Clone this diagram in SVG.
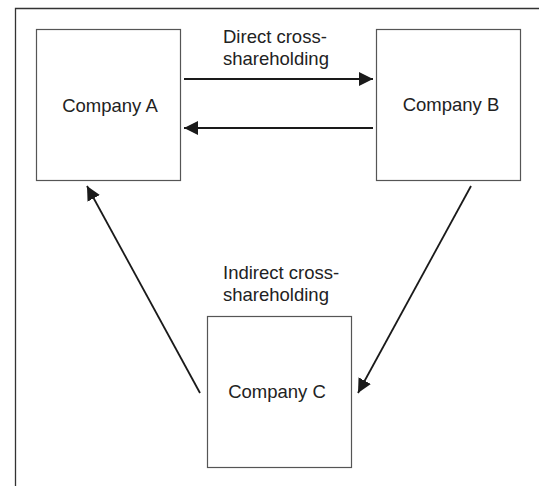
<svg xmlns="http://www.w3.org/2000/svg" width="539" height="486" viewBox="0 0 539 486">
<defs>
<style>
.box{fill:#fff;stroke:#555;stroke-width:1.2}
.lbl{font-family:"Liberation Sans",Arial,sans-serif;font-size:18.5px;fill:#222}
.edge{stroke:#1a1a1a;stroke-width:1.8;fill:none;marker-end:url(#ah)}
</style>
<marker id="ah" markerUnits="userSpaceOnUse" markerWidth="16" markerHeight="16" refX="14" refY="7" orient="auto">
<path d="M0,0 L14,7 L0,14 Z" fill="#1a1a1a"/>
</marker>
</defs>
<rect width="539" height="486" fill="#fff"/>
<path d="M15.5,486 V8.5 H539" fill="none" stroke="#333" stroke-width="1.3"/>
<g id="nodeA"><rect class="box" x="36.5" y="29.5" width="144" height="151"/><text class="lbl" x="110" y="112" text-anchor="middle">Company A</text></g>
<g id="nodeB"><rect class="box" x="376.5" y="29.5" width="144" height="151"/><text class="lbl" x="451" y="111" text-anchor="middle">Company B</text></g>
<g id="nodeC"><rect class="box" x="207.5" y="316.5" width="144" height="151"/><text class="lbl" x="277" y="398" text-anchor="middle">Company C</text></g>
<g id="connectors">
<line class="edge" x1="184" y1="79" x2="373" y2="79"/>
<line class="edge" x1="373" y1="128" x2="184" y2="128"/>
<line class="edge" x1="200" y1="393" x2="87" y2="186"/>
<line class="edge" x1="471" y1="186" x2="358" y2="393"/>
</g>
<g id="labels">
<text class="lbl" x="223" y="43">Direct cross-</text>
<text class="lbl" x="223" y="65">shareholding</text>
<text class="lbl" x="223" y="279">Indirect cross-</text>
<text class="lbl" x="223" y="301">shareholding</text>
</g>
</svg>
